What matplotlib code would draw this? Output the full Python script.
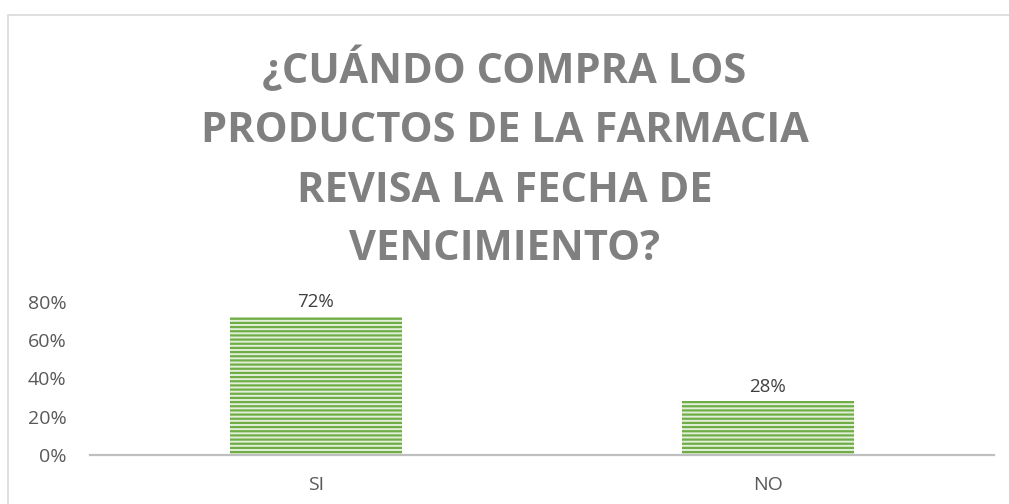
import matplotlib
matplotlib.use('Agg')
import matplotlib.pyplot as plt
from matplotlib.patches import Rectangle
from matplotlib.ticker import FuncFormatter

categories = ['SI', 'NO']
values = [0.72, 0.28]
value_labels = ['72%', '28%']
title_lines = ['¿CUÁNDO COMPRA LOS', 'PRODUCTOS DE LA FARMACIA',
               'REVISA LA FECHA DE', 'VENCIMIENTO?']

plt.rcParams['font.family'] = ['Open Sans', 'DejaVu Sans']
plt.rcParams['hatch.linewidth'] = 1.6

fig = plt.figure(figsize=(10.09, 5.04), dpi=100)
ax = fig.add_axes([0.0892, 0.0972, 0.8958, 0.304])

bars = ax.bar(range(len(categories)), values, width=0.38, color='#E2F0D9',
              edgecolor='#70AD47', hatch='----', linewidth=0)
for b, lab in zip(bars, value_labels):
    ax.text(b.get_x() + b.get_width() / 2, b.get_height() + 0.03, lab,
            ha='center', va='bottom', fontsize=13.5, color='#404040')

ax.set_xlim(-0.5, 1.5)
ax.set_ylim(0, 0.8)
ax.set_yticks([0, 0.2, 0.4, 0.6, 0.8])
ax.yaxis.set_major_formatter(FuncFormatter(lambda v, p: f'{v*100:.0f}%'))
ax.set_xticks(range(len(categories)))
ax.set_xticklabels(categories)
ax.tick_params(axis='both', length=0, labelsize=14, colors='#595959')
ax.tick_params(axis='y', pad=17)
ax.tick_params(axis='x', pad=15)
for s in ['top', 'right', 'left']:
    ax.spines[s].set_visible(False)
ax.spines['bottom'].set_color('#BFBFBF')
ax.spines['bottom'].set_linewidth(1.6)

# chart frame (top and left edges visible)
fig.patches.append(Rectangle((8 / 1009, -0.1), 1.2, 1 - 15 / 504 + 0.1,
                             transform=fig.transFigure, fill=False,
                             edgecolor='#D9D9D9', linewidth=1.2))

ys = [70, 132, 192, 250]
for line, y in zip(title_lines, ys):
    fig.text(0.5, 1 - y / 504, line, ha='center', va='center',
             fontsize=30, fontweight='bold', color='#808080')

fig.savefig('out.png', dpi=100)
